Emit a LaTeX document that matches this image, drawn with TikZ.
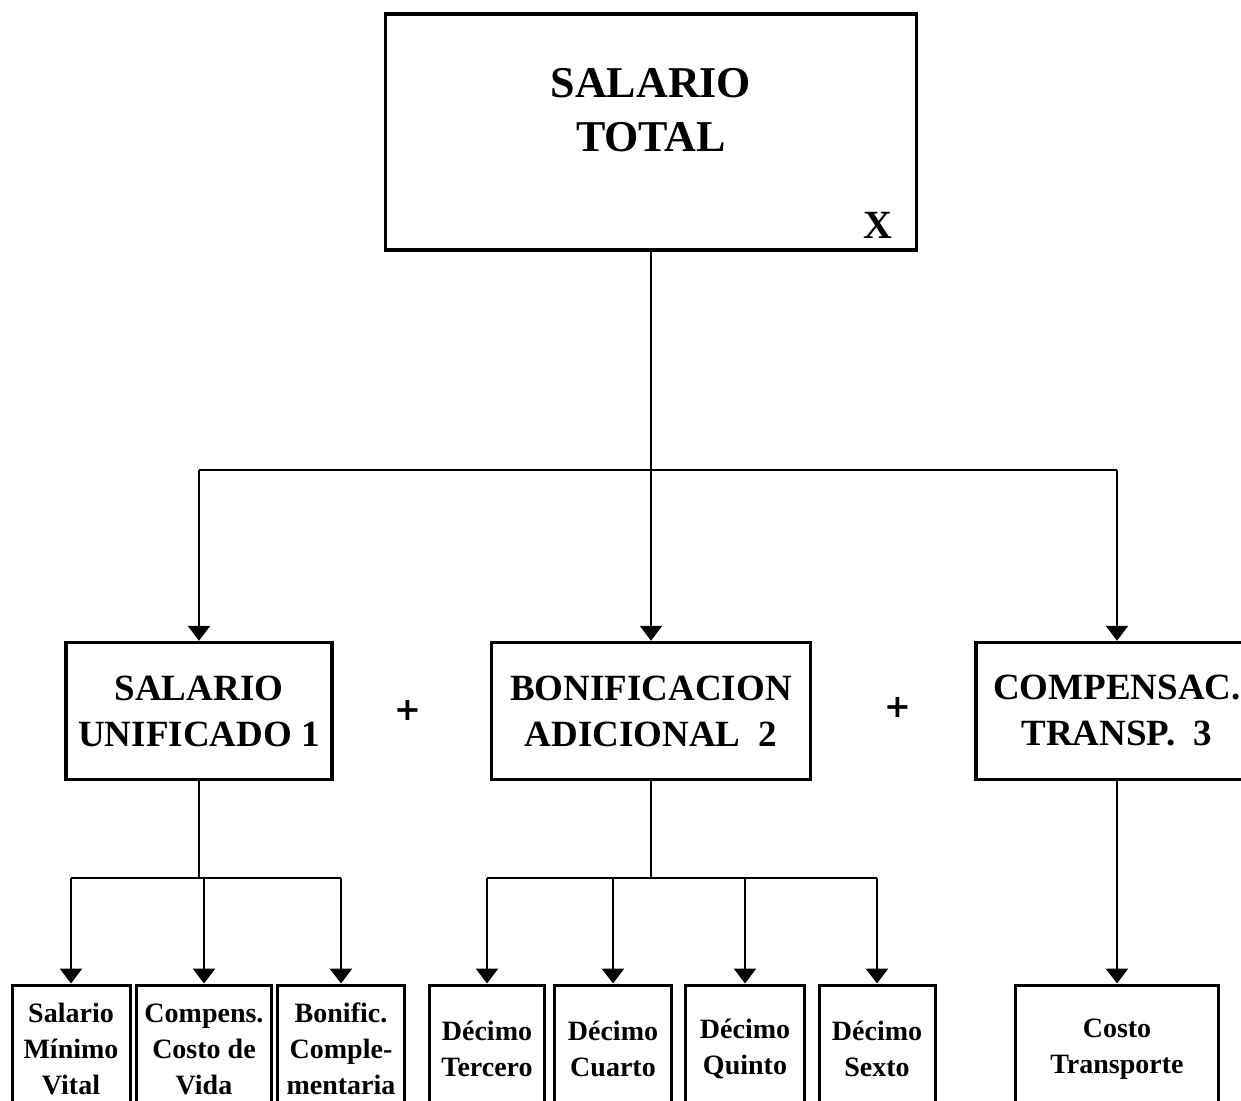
\documentclass[tikz,border=0pt]{standalone}
\usepackage{fontspec}
\setmainfont{Liberation Serif}
\newfontfamily\plusfont{DejaVu Sans}
\usetikzlibrary{positioning,arrows.meta}

\begin{document}
\begin{tikzpicture}[
    x=1pt, y=-1pt,
    topbox/.style  = {draw=black, line width=3.5pt, minimum width=531pt, minimum height=236pt, inner sep=0pt},
    toptxt/.style  = {align=center, inner sep=0pt, font=\fontsize{44}{54}\selectfont\bfseries},
    midbox/.style  = {draw=black, line width=3.5pt, minimum height=137pt, inner sep=0pt, align=center,
                      font=\fontsize{37}{46}\selectfont\bfseries},
    leaf/.style    = {draw=black, line width=3pt, minimum height=128pt, inner sep=0pt, align=center,
                      font=\fontsize{28}{36}\selectfont\bfseries},
    plus/.style    = {font=\plusfont\fontsize{32}{32}\selectfont\bfseries, inner sep=0pt},
    link/.style    = {line width=2.7pt},
    arr/.style     = {line width=2.7pt, -{Triangle[width=22pt,length=15pt]}}
  ]
  \useasboundingbox (0,0) rectangle (1241,1100);
  \clip (0,0) rectangle (1241,1100);

  %% Top: total salary
  \node[topbox] (st) at (651,132) {};
  \node[toptxt] (sttxt) at (651,110) {SALARIO\\TOTAL};
  \node[font=\fontsize{40}{40}\selectfont\bfseries, inner sep=0pt] (stx) at (878,225) {X};

  %% Middle row: the three components
  \node[midbox, minimum width=266pt] (su) at (199,711) {SALARIO\\UNIFICADO 1};
  \node[midbox, minimum width=319pt] (ba) at (651,711) {BONIFICACION\\ADICIONAL\ \ 2};
  \node[midbox, minimum width=282pt] (ct) at (1117,711) {COMPENSAC.\\TRANSP.\ \ 3};
  \node[plus] (p1) at (408,710) {+};
  \node[plus] (p2) at (898,707) {+};

  %% Bottom row: the parts of each component
  \node[leaf, minimum width=118pt] (l1) at (71,1049)   {Salario\\Mínimo\\Vital};
  \node[leaf, minimum width=135pt] (l2) at (204,1049)  {Compens.\\Costo de\\Vida};
  \node[leaf, minimum width=127pt] (l3) at (341,1049)  {Bonific.\\Comple-\\mentaria};
  \node[leaf, minimum width=115pt] (l4) at (487,1049)  {Décimo\\Tercero};
  \node[leaf, minimum width=117pt] (l5) at (613,1049)  {Décimo\\Cuarto};
  \node[leaf, minimum width=119pt] (l6) at (745,1049)  {Décimo\\Quinto};
  \node[leaf, minimum width=116pt] (l7) at (877,1049)  {Décimo\\Sexto};
  \node[leaf, minimum width=203pt] (l8) at (1117,1049) {Costo\\Transporte};

  %% Connectors, top to middle
  \coordinate (jTop) at (651,470);
  \draw[link] (st.south) -- (jTop);
  \draw[link] (su.north |- jTop) -- (ct.north |- jTop);
  \draw[arr] (jTop) -- (ba.north);
  \draw[arr] (su.north |- jTop) -- (su.north);
  \draw[arr] (ct.north |- jTop) -- (ct.north);

  %% Connectors, middle to bottom
  \coordinate (jSu) at (199,878);
  \coordinate (jBa) at (651,878);
  \draw[link] (su.south) -- (jSu);
  \draw[link] (l1.north |- jSu) -- (l3.north |- jSu);
  \foreach \n in {l1,l2,l3}{\draw[arr] (\n.north |- jSu) -- (\n.north);}
  \draw[link] (ba.south) -- (jBa);
  \draw[link] (l4.north |- jBa) -- (l7.north |- jBa);
  \foreach \n in {l4,l5,l6,l7}{\draw[arr] (\n.north |- jBa) -- (\n.north);}
  \draw[arr] (ct.south) -- (l8.north);
\end{tikzpicture}
\end{document}
